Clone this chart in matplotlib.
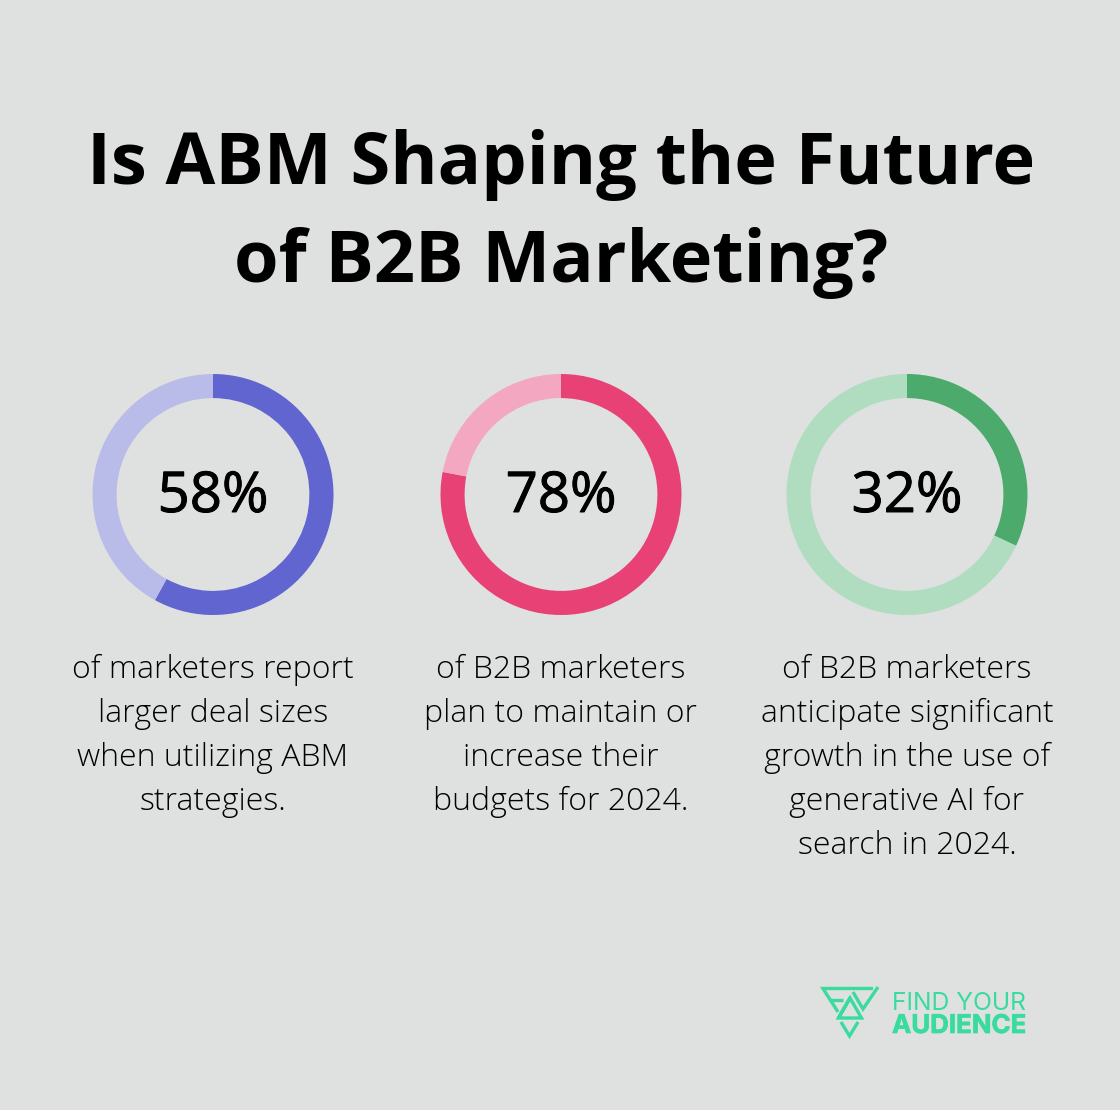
import matplotlib
matplotlib.use("Agg")
import matplotlib.pyplot as plt
import matplotlib.patheffects as pe

W, H = 1120, 1110
BG = "#dfe1e0"
FONT = "Open Sans"

TITLE_LINES = ["Is ABM Shaping the Future", "of B2B Marketing?"]
PERCENTS = [58, 78, 32]
MAIN_COLORS = ["#6065d0", "#e84176", "#4daa6d"]
LIGHT_COLORS = ["#b9bbe8", "#f3a7c0", "#b0dcc0"]
CAPTIONS = [
    ["of marketers report", "larger deal sizes", "when utilizing ABM", "strategies."],
    ["of B2B marketers", "plan to maintain or", "increase their", "budgets for 2024."],
    ["of B2B marketers", "anticipate significant", "growth in the use of", "generative AI for", "search in 2024."],
]
CENTERS_X = [213, 561, 907]
LOGO_GREEN = "#3adb9e"
LOGO_STROKES = [
    [(873, 988.5), (823, 988.5), (838, 1012)],
    [(829, 999.5), (843, 999.5)],
    [(853, 992), (863, 1009), (878, 987)],
    [(850, 998), (838.5, 1018), (861.5, 1018), (850, 998), (838.5, 1018)],
    [(841, 1022), (849.5, 1036), (858, 1022)],
]

fig = plt.figure(figsize=(W / 100, H / 100), dpi=100, facecolor=BG)
bg = fig.add_axes([0, 0, 1, 1])
bg.set_xlim(0, W)
bg.set_ylim(H, 0)
bg.axis("off")

# title
bg.text(561, 184, TITLE_LINES[0], fontsize=51.9, fontweight="bold", family=FONT, ha="center", va="baseline", color="black")
bg.text(561, 282, TITLE_LINES[1], fontsize=51.9, fontweight="bold", family=FONT, ha="center", va="baseline", color="black")

# donuts
size = 241
cy = 494.5
for cx, pct, c, light, lines in zip(CENTERS_X, PERCENTS, MAIN_COLORS, LIGHT_COLORS, CAPTIONS):
    ax = fig.add_axes([(cx - size / 2) / W, 1 - (cy + size / 2) / H, size / W, size / H])
    ax.pie([pct, 100 - pct], colors=[c, light], startangle=90, counterclock=False,
           radius=1.0, wedgeprops=dict(width=0.2))
    ax.set_xlim(-1, 1)
    ax.set_ylim(-1, 1)
    label = bg.text(cx, 512, f"{pct}%", fontsize=40.5, family=FONT, ha="center", va="baseline", color="black")
    label.set_path_effects([pe.withStroke(linewidth=0.7, foreground="black")])
    for i, line in enumerate(lines):
        bg.text(cx, 670 + i * 44, line, fontsize=23, fontweight="light", family=FONT, ha="center", va="center", color="black")

# logo
for stroke in LOGO_STROKES:
    xs, ys = zip(*stroke)
    bg.plot(xs, ys, color=LOGO_GREEN, linewidth=2.4, solid_joinstyle="miter", solid_capstyle="butt")
bg.set_xlim(0, W)
bg.set_ylim(H, 0)
bg.text(892, 1010, "FIND YOUR", fontsize=17.8, family="Inter", color=LOGO_GREEN, ha="left", va="baseline")
audience = bg.text(892, 1033, "AUDIENCE", fontsize=18.6, family="Inter", fontweight="bold", color=LOGO_GREEN, ha="left", va="baseline")
audience.set_path_effects([pe.withStroke(linewidth=0.5, foreground=LOGO_GREEN)])

fig.savefig("out.png", dpi=100, facecolor=BG)
